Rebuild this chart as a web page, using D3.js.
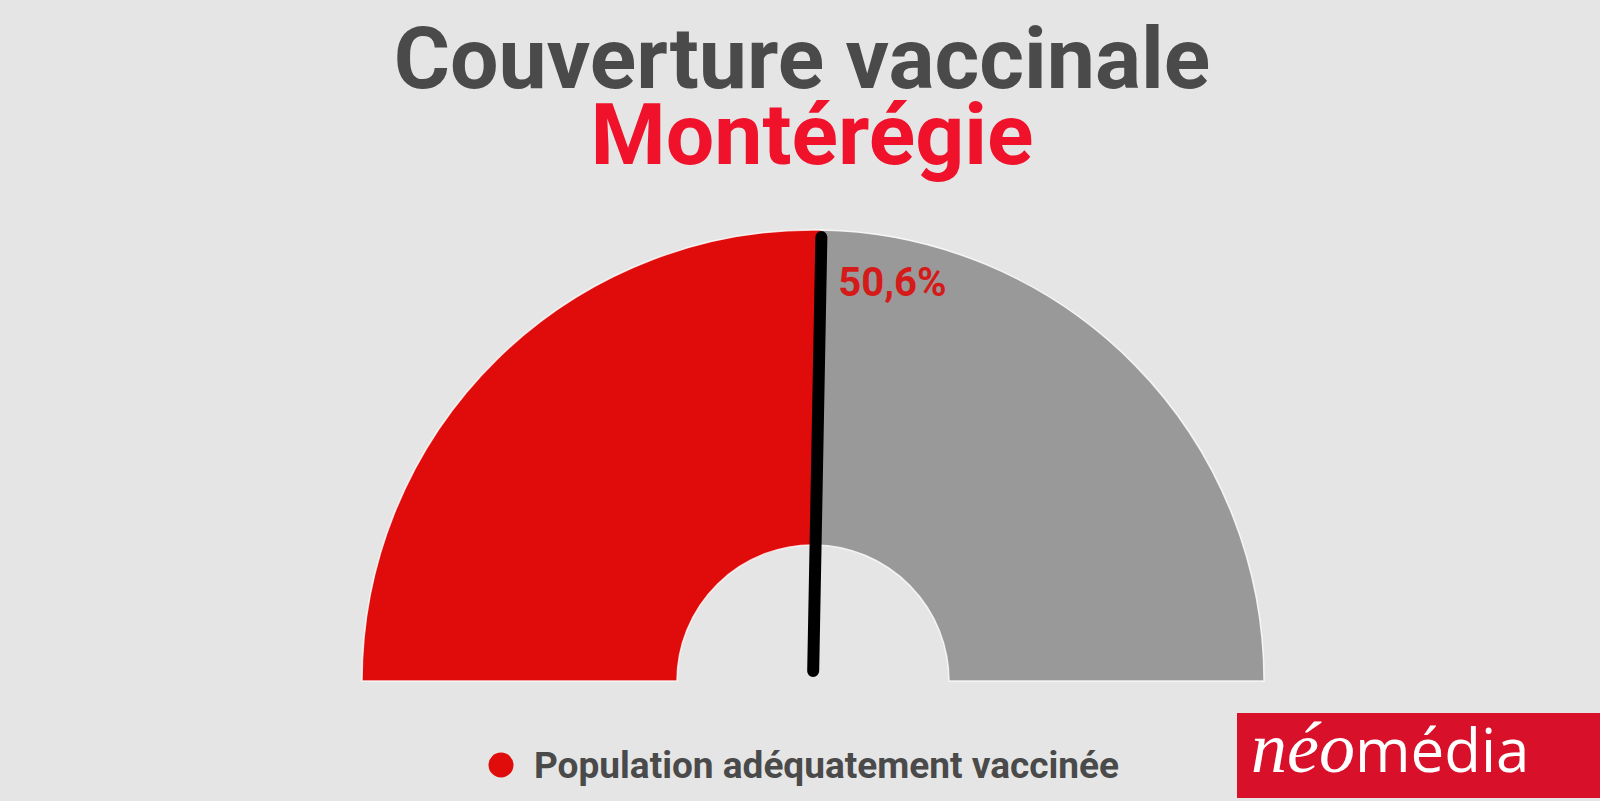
<!DOCTYPE html>
<html>
<head>
<meta charset="utf-8">
<script src="https://cdn.jsdelivr.net/npm/d3@7"></script>
<style>
  html, body { margin: 0; padding: 0; background: #e5e5e5; }
  svg { display: block; }
</style>
</head>
<body>
<svg id="chart" width="1600" height="801"></svg>
<script>
// ---- Data ----
const titleLines = ["Couverture vaccinale", "Montérégie"];
const categories = ["Population adéquatement vaccinée", "Non adéquatement vaccinée"];
const values = [50.6, 49.4];
const valueLabels = ["50,6%"];
const legendItems = ["Population adéquatement vaccinée"];
const brand = ["néo", "média"];

// ---- Layout ----
const W = 1600, H = 801;
const cx = 813, cy = 681;
const outerR = 451, innerR = 136;
const colors = ["#e00b0b", "#999999"];

const svg = d3.select("#chart");
svg.append("rect").attr("width", W).attr("height", H).attr("fill", "#e5e5e5");

// Titles
svg.append("text")
  .attr("x", 802).attr("y", 88)
  .attr("text-anchor", "middle")
  .attr("font-family", "Roboto")
  .attr("font-weight", 700)
  .attr("font-size", 86)
  .attr("fill", "#4a4a4a")
  .text(titleLines[0]);
svg.append("text")
  .attr("x", 812).attr("y", 164)
  .attr("text-anchor", "middle")
  .attr("font-family", "Roboto")
  .attr("font-weight", 700)
  .attr("font-size", 86)
  .attr("fill", "#f0112b")
  .text(titleLines[1]);

// Gauge
const pie = d3.pie().sort(null).startAngle(-Math.PI / 2).endAngle(Math.PI / 2);
const arc = d3.arc().innerRadius(innerR).outerRadius(outerR);
const g = svg.append("g").attr("transform", `translate(${cx},${cy})`);
g.selectAll("path.slice")
  .data(pie(values))
  .join("path")
  .attr("class", "slice")
  .attr("d", arc)
  .attr("fill", (d, i) => colors[i])
  .attr("stroke", "#ffffff")
  .attr("stroke-opacity", 0.8)
  .attr("stroke-width", 1.5);

// Needle
const angle = d3.scaleLinear().domain([0, 100]).range([-Math.PI / 2, Math.PI / 2]);
const a = angle(values[0]);
const r0 = 10, r1 = 444;
g.append("line")
  .attr("x1", r0 * Math.sin(a)).attr("y1", -r0 * Math.cos(a))
  .attr("x2", r1 * Math.sin(a)).attr("y2", -r1 * Math.cos(a))
  .attr("stroke", "#000000")
  .attr("stroke-width", 12)
  .attr("stroke-linecap", "round");

// Value label
g.append("text")
  .attr("x", r1 * Math.sin(a) + 17)
  .attr("y", -r1 * Math.cos(a) + 59)
  .attr("font-family", "Roboto")
  .attr("font-weight", 700)
  .attr("font-size", 40)
  .attr("fill", "#d51a1a")
  .text(valueLabels[0]);

// Legend
const legend = svg.append("g").attr("transform", "translate(501,765)");
legend.append("circle").attr("r", 12.5).attr("fill", colors[0]);
legend.append("text")
  .attr("x", 33).attr("y", 13)
  .attr("font-family", "Roboto")
  .attr("font-weight", 700)
  .attr("font-size", 37)
  .attr("fill", "#4a4a4a")
  .text(legendItems[0]);

// Brand logo
svg.append("rect")
  .attr("x", 1237).attr("y", 713)
  .attr("width", W - 1237).attr("height", 85)
  .attr("fill", "#d9102a");
const bt = svg.append("text")
  .attr("x", 1251).attr("y", 772)
  .attr("fill", "#ffffff");
bt.append("tspan")
  .attr("font-family", "Liberation Serif")
  .attr("font-style", "italic")
  .attr("font-size", 72)
  .text(brand[0]);
bt.append("tspan")
  .attr("font-family", "Open Sans")
  .attr("font-size", 60)
  .text(brand[1]);
</script>
</body>
</html>
